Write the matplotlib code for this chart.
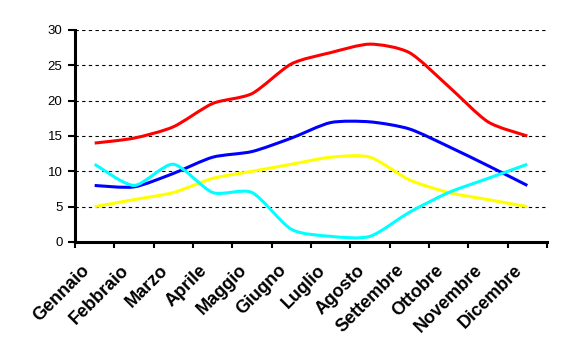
import numpy as np
import matplotlib
matplotlib.use("Agg")
import matplotlib.pyplot as plt
import matplotlib.transforms as mtransforms
from matplotlib.path import Path
from matplotlib.patches import PathPatch

mesi = ["Gennaio", "Febbraio", "Marzo", "Aprile", "Maggio", "Giugno",
        "Luglio", "Agosto", "Settembre", "Ottobre", "Novembre", "Dicembre"]
rosso = [14, 14.7, 16.3, 19.6, 21, 25.2, 26.8, 28, 26.8, 22, 17, 15]
blu = [8, 7.8, 9.7, 12, 12.8, 14.7, 16.9, 17, 16, 13.5, 10.8, 8]
giallo = [5, 6, 7, 9, 10, 11, 12, 12, 8.8, 7, 6, 5]
ciano = [11, 8, 11, 7, 7, 1.8, 0.8, 0.8, 4.2, 7, 9, 11]

plt.rcParams['font.family'] = ['Liberation Sans', 'DejaVu Sans']

fig = plt.figure(figsize=(5.63, 3.62), dpi=100)
ax = fig.add_axes([75 / 563, 1 - 242 / 362, 472 / 563, 212 / 362])


def smooth_line(ax, ys, color, k=8):
    # curva tipo Excel: Catmull-Rom convertito in Bezier cubiche
    x = np.arange(len(ys), dtype=float)
    y = np.asarray(ys, dtype=float)
    pts = np.column_stack([x, y])
    verts = [pts[0]]
    codes = [Path.MOVETO]
    n = len(pts)
    for i in range(n - 1):
        p0 = pts[max(i - 1, 0)]
        p1 = pts[i]
        p2 = pts[i + 1]
        p3 = pts[min(i + 2, n - 1)]
        c1 = p1 + (p2 - p0) / k
        c2 = p2 - (p3 - p1) / k
        verts += [c1, c2, p2]
        codes += [Path.CURVE4] * 3
    ax.add_patch(PathPatch(Path(verts, codes), fill=False, edgecolor=color,
                           lw=2.2, capstyle='butt', joinstyle='round', zorder=3))


smooth_line(ax, rosso, '#FF0000')
smooth_line(ax, blu, '#0000FF')
smooth_line(ax, giallo, '#FFFF00')
smooth_line(ax, ciano, '#00FFFF')

ax.set_xlim(-0.5, len(mesi) - 0.5)
ax.set_ylim(0, 30)

ax.set_yticks(range(0, 31, 5))
ax.yaxis.grid(True, color='black', linestyle=(0, (3, 3)), linewidth=0.8)
ax.set_axisbelow(True)

ax.set_xticks(np.arange(-0.5, len(mesi), 1))
ax.set_xticklabels([])
ax.set_xticks(np.arange(len(mesi)), minor=True)
ax.set_xticklabels(mesi, minor=True, rotation=45, ha='right',
                   rotation_mode='anchor', fontweight='bold', fontsize=13)
ax.tick_params(axis='x', which='major', direction='out', length=4, width=1.5)
ax.tick_params(axis='x', which='minor', length=0, pad=12)
ax.tick_params(axis='y', direction='out', length=5, width=1.5, labelsize=9.5, pad=4)

# sposta le etichette dei mesi un po' a sinistra
offset = mtransforms.ScaledTranslation(-14 / 100, -3 / 100, fig.dpi_scale_trans)
for lab in ax.xaxis.get_minorticklabels():
    lab.set_transform(lab.get_transform() + offset)

for s in ['top', 'right']:
    ax.spines[s].set_visible(False)
for s in ['left', 'bottom']:
    ax.spines[s].set_linewidth(2.2)

fig.savefig("out.png", dpi=100)
